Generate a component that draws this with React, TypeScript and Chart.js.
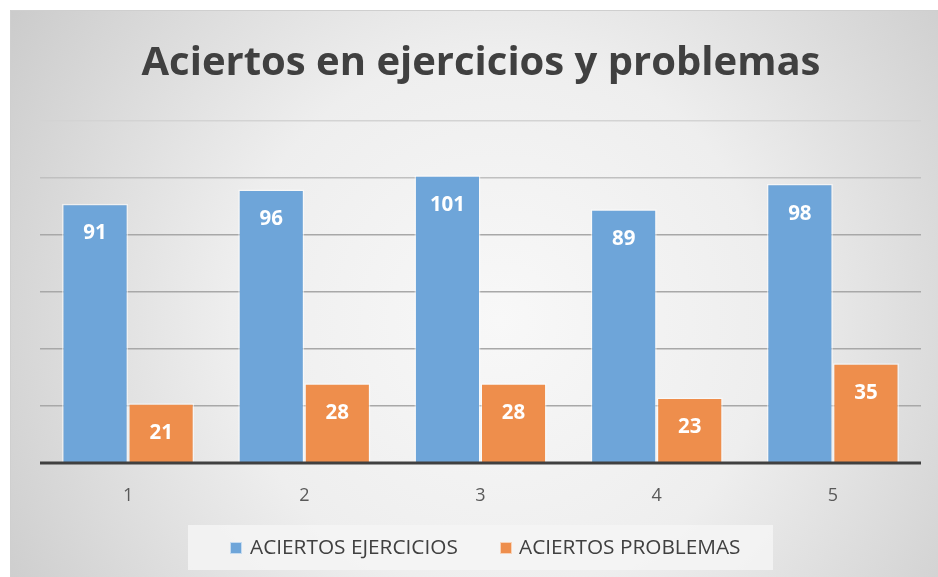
import React, { useEffect, useRef } from "react";
import { Chart, registerables } from "chart.js";

Chart.register(...registerables);

const categories = ["1", "2", "3", "4", "5"];
const seriesNames = ["ACIERTOS EJERCICIOS", "ACIERTOS PROBLEMAS"];
const ejercicios = [91, 96, 101, 89, 98];
const problemas = [21, 28, 28, 23, 35];
const chartTitle = "Aciertos en ejercicios y problemas";
const yMax = 120;
const yStep = 20;

const W = 938;
const H = 577;

const bgPlugin = {
  id: "bgPlugin",
  beforeDraw(chart: any) {
    const ctx = chart.ctx;
    ctx.save();
    ctx.fillStyle = "#ffffff";
    ctx.fillRect(0, 0, W, H);
    const g = ctx.createRadialGradient(500, 320, 0, 500, 320, 600);
    g.addColorStop(0, "#f8f8f8");
    g.addColorStop(0.45, "#eeeeee");
    g.addColorStop(1, "#c9c9c9");
    ctx.fillStyle = g;
    ctx.fillRect(10, 10, W - 10, H - 10);
    ctx.strokeStyle = "#cfcfcf";
    ctx.lineWidth = 1;
    ctx.beginPath();
    ctx.moveTo(10.5, H);
    ctx.lineTo(10.5, 10.5);
    ctx.lineTo(W, 10.5);
    ctx.stroke();

    // title
    ctx.fillStyle = "#404040";
    ctx.font = "bold 40px 'Open Sans'";
    ctx.textAlign = "center";
    ctx.textBaseline = "alphabetic";
    ctx.fillText(chartTitle, 481, 75);

    // legend box
    ctx.fillStyle = "rgba(245,245,245,0.85)";
    ctx.fillRect(188, 525, 585, 45);
    ctx.restore();
  },
  afterDraw(chart: any) {
    const ctx = chart.ctx;
    ctx.save();
    // axis line
    const ys = chart.scales.y;
    const area = chart.chartArea;
    const y0 = ys.getPixelForValue(0);
    ctx.strokeStyle = "#404040";
    ctx.lineWidth = 3;
    ctx.beginPath();
    ctx.moveTo(area.left, y0);
    ctx.lineTo(area.right, y0);
    ctx.stroke();

    // data labels
    ctx.fillStyle = "#ffffff";
    ctx.font = "bold 20.5px 'Open Sans'";
    ctx.textAlign = "center";
    ctx.textBaseline = "middle";
    chart.data.datasets.forEach((ds: any, di: number) => {
      const meta = chart.getDatasetMeta(di);
      meta.data.forEach((bar: any, i: number) => {
        ctx.fillText(String(ds.data[i]), bar.x, bar.y + 30);
      });
    });

    // legend
    const items = [
      { x: 230, tx: 250 },
      { x: 500, tx: 519 },
    ];
    ctx.font = "20.8px 'Open Sans'";
    ctx.textAlign = "left";
    ctx.textBaseline = "middle";
    chart.data.datasets.forEach((ds: any, di: number) => {
      const it = items[di];
      ctx.fillStyle = ds.backgroundColor;
      ctx.fillRect(it.x, 542, 12, 12);
      ctx.strokeStyle = "rgba(255,255,255,0.6)";
      ctx.lineWidth = 1;
      ctx.strokeRect(it.x + 0.5, 542.5, 11, 11);
      ctx.fillStyle = "#404040";
      ctx.fillText(ds.label, it.tx, 548);
    });
    ctx.restore();
  },
};

export default function App() {
  const ref = useRef<HTMLCanvasElement>(null);
  useEffect(() => {
    if (!ref.current) return;
    const chart = new Chart(ref.current, {
      type: "bar",
      data: {
        labels: categories,
        datasets: [
          {
            label: seriesNames[0],
            data: ejercicios,
            backgroundColor: "#6ea5d9",
            borderColor: "rgba(255,255,255,0.55)",
            borderWidth: 1.5,
            categoryPercentage: 0.75,
            barPercentage: 1,
          },
          {
            label: seriesNames[1],
            data: problemas,
            backgroundColor: "#ee8e4c",
            borderColor: "rgba(255,255,255,0.55)",
            borderWidth: 1.5,
            categoryPercentage: 0.75,
            barPercentage: 1,
          },
        ],
      },
      options: {
        animation: false,
        responsive: false,
        maintainAspectRatio: false,
        layout: { padding: { left: 40, right: 17, top: 121, bottom: 0 } },
        plugins: {
          legend: { display: false },
          title: { display: false },
          tooltip: { enabled: false },
        },
        scales: {
          x: {
            grid: { display: false },
            border: { display: false },
            ticks: {
              color: "#595959",
              font: { family: "'Open Sans'", size: 18 },
              padding: 14,
            },
            afterFit: (s: any) => {
              s.height = 114;
            },
          },
          y: {
            min: 0,
            max: yMax,
            ticks: { display: false, stepSize: yStep },
            border: { display: false },
            grid: {
              drawTicks: false,
              lineWidth: 1.5,
              color: (c: any) => {
                const v = c.tick ? c.tick.value : 0;
                if (v >= 120) return "#d3d3d3";
                if (v >= 100) return "#c0c0c0";
                return "#a8a8a8";
              },
            },
            afterFit: (s: any) => {
              s.width = 0;
            },
          },
        },
      },
      plugins: [bgPlugin],
    });
    return () => chart.destroy();
  }, []);
  return (
    <div style={{ position: "absolute", left: 0, top: 0, width: W, height: H }}>
      <canvas ref={ref} width={W} height={H} style={{ width: W, height: H }} />
    </div>
  );
}
